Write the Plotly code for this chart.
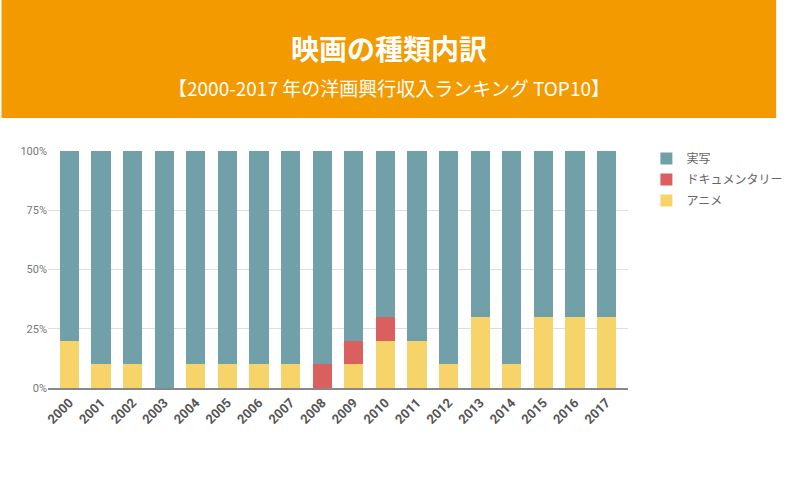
import plotly.graph_objects as go

years = [str(y) for y in range(2000, 2018)]
anime = [2, 1, 1, 0, 1, 1, 1, 1, 0, 1, 2, 2, 1, 3, 1, 3, 3, 3]
documentary = [0, 0, 0, 0, 0, 0, 0, 0, 1, 1, 1, 0, 0, 0, 0, 0, 0, 0]
live_action = [10 - a - d for a, d in zip(anime, documentary)]
total = 10

series = [
    ("アニメ", anime, "#F7D46A", 3),
    ("ドキュメンタリー", documentary, "#D9605F", 2),
    ("実写", live_action, "#72A0A8", 1),
]

fig = go.Figure()
for name, vals, color, rank in series:
    fig.add_trace(go.Bar(
        x=years, y=[v / total for v in vals], name=name, legendgroup=name,
        legendrank=rank,
        marker=dict(color=color, line=dict(width=0)),
    ))

W, H = 800, 491
ml, mr, mt, mb = 48, 153, 151, 103
pw = W - ml - mr
ph = H - mt - mb

def py(px):
    return (H - mb - px) / ph

def px_(x):
    return (x - ml) / pw

fig.add_shape(type="rect", xref="paper", yref="paper",
              x0=px_(0), x1=px_(W),
              y0=py(118), y1=py(0), fillcolor="#F29A00", line=dict(width=0), layer="below")

fig.add_annotation(text="<b>映画の種類内訳</b>", xref="paper", yref="paper",
                   x=px_(400), y=py(48), showarrow=False,
                   font=dict(family="Noto Sans CJK JP", size=28, color="white"),
                   xanchor="center", yanchor="middle")
fig.add_annotation(text="【2000-2017 年の洋画興行収入ランキング TOP10】", xref="paper", yref="paper",
                   x=px_(400), y=py(88), showarrow=False,
                   font=dict(family="Noto Sans CJK JP", size=19, color="white"),
                   xanchor="center", yanchor="middle")

fig.update_layout(
    width=W, height=H,
    margin=dict(l=ml, r=mr, t=mt, b=mb),
    barmode="stack", bargap=0.39,
    plot_bgcolor="white", paper_bgcolor="white",
    showlegend=True,
    legend=dict(traceorder="grouped", x=px_(666), y=py(144), xanchor="left", yanchor="top",
                font=dict(family="Noto Sans CJK JP", size=12, color="#666666"),
                itemwidth=30, tracegroupgap=2),
    xaxis=dict(type="category", tickangle=-45, showgrid=False,
               range=[-0.68, 17.68],
               tickfont=dict(family="Roboto", size=13, color="#555555", weight="bold"),
               showline=True, linecolor="#888888", linewidth=2, ticks=""),
    yaxis=dict(range=[0, 1], tickvals=[0, 0.25, 0.5, 0.75, 1],
               ticktext=["0%", "25%", "50%", "75%", "100%"],
               gridcolor="#DDDDDD", zeroline=False,
               tickfont=dict(family="Roboto", size=11, color="#777777"), ticks=""),
)

fig.write_html("out.html", config={"displayModeBar": False},
               post_script="document.body.style.margin='0';document.body.style.overflow='hidden';document.documentElement.style.overflow='hidden';")
